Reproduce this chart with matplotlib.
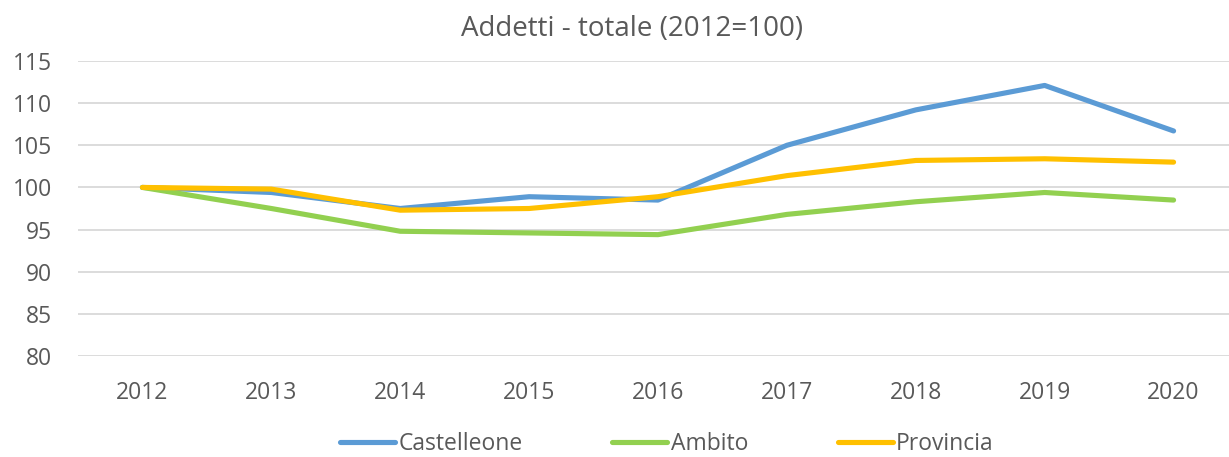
import matplotlib
matplotlib.use("Agg")
import matplotlib.pyplot as plt

years = ["2012", "2013", "2014", "2015", "2016", "2017", "2018", "2019", "2020"]
castelleone = [100.0, 99.4, 97.5, 98.9, 98.5, 105.0, 109.2, 112.1, 106.7]
ambito = [100.0, 97.5, 94.8, 94.6, 94.4, 96.8, 98.3, 99.4, 98.5]
provincia = [100.0, 99.8, 97.3, 97.5, 98.9, 101.4, 103.2, 103.4, 103.0]
y_ticks = [80, 85, 90, 95, 100, 105, 110, 115]

plt.rcParams["font.family"] = ["Open Sans", "DejaVu Sans"]
text_color = "#595959"

W, H = 1229, 457
fig = plt.figure(figsize=(W / 100, H / 100), dpi=100)
left, right, top, bottom = 78, W, 61, 356
ax = fig.add_axes([left / W, (H - bottom) / H, (right - left) / W, (bottom - top) / H])

x = list(range(len(years)))
lw = 3.7
ax.plot(x, castelleone, color="#5B9BD5", lw=lw, solid_capstyle="round", solid_joinstyle="round", label="Castelleone", zorder=3)
ax.plot(x, ambito, color="#92D050", lw=lw, solid_capstyle="round", solid_joinstyle="round", label="Ambito", zorder=3)
ax.plot(x, provincia, color="#FFC000", lw=lw, solid_capstyle="round", solid_joinstyle="round", label="Provincia", zorder=4)

ax.set_xlim(-0.5, 8.43)
ax.set_ylim(80, 115)
ax.set_yticks(y_ticks)
ax.set_xticks(x)
ax.set_xticklabels(years)
ax.grid(axis="y", color="#D9D9D9", lw=1.3)
ax.set_axisbelow(True)
for s in ax.spines.values():
    s.set_visible(False)
ax.tick_params(axis="y", length=0, pad=18.5, labelsize=16.5, labelcolor=text_color)
ax.tick_params(axis="x", length=0, pad=18, labelsize=16.5, labelcolor=text_color)

fig.text(632 / W, 1 - 29 / H, "Addetti - totale (2012=100)", ha="center", va="center",
         fontsize=20, color=text_color)

fig.legend(loc="center", bbox_to_anchor=(667 / W, 1 - 444 / H), ncol=3, frameon=False,
           fontsize=16.5, handlelength=2.4, handletextpad=0.15, columnspacing=3.9,
           labelcolor=text_color)

fig.savefig("out.png", dpi=100)
